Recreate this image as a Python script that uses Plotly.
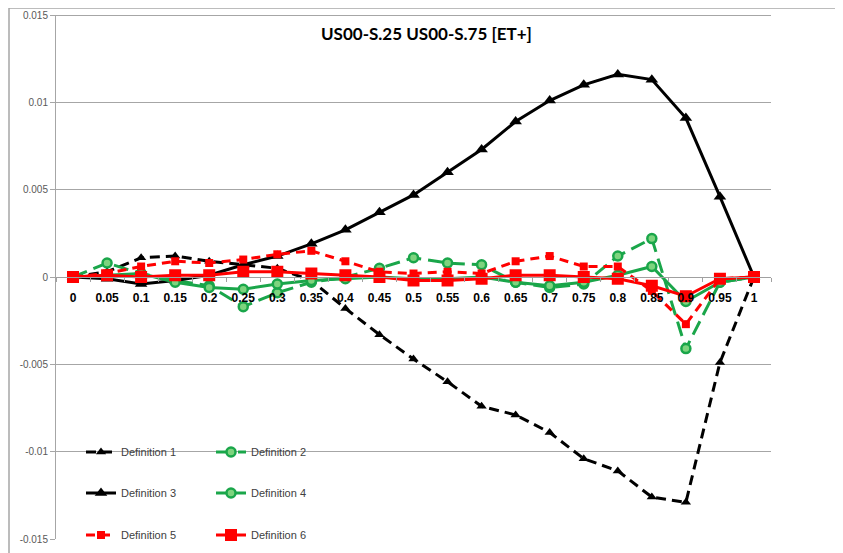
import plotly.graph_objects as go

categories = [0, 0.05, 0.1, 0.15, 0.2, 0.25, 0.3, 0.35, 0.4, 0.45, 0.5,
              0.55, 0.6, 0.65, 0.7, 0.75, 0.8, 0.85, 0.9, 0.95, 1]
tick_labels = ["0", "0.05", "0.1", "0.15", "0.2", "0.25", "0.3", "0.35", "0.4", "0.45", "0.5",
               "0.55", "0.6", "0.65", "0.7", "0.75", "0.8", "0.85", "0.9", "0.95", "1"]

def1 = [0, 0.0003, 0.0011, 0.0012, 0.0009, 0.0007, 0.0005, -0.0002, -0.0018, -0.0033, -0.0047,
        -0.0060, -0.0074, -0.0079, -0.0089, -0.0104, -0.0111, -0.0126, -0.0129, -0.0049, 0]
def2 = [0, 0.0008, 0.0002, -0.0002, -0.0005, -0.0017, -0.0009, -0.0003, 0.0000, 0.0005, 0.0011,
        0.0008, 0.0007, -0.0003, -0.0006, -0.0004, 0.0012, 0.0022, -0.0041, -0.0003, 0]
def3 = [0, -0.0001, -0.0004, -0.0002, 0.0001, 0.0007, 0.0012, 0.0019, 0.0027, 0.0037, 0.0047,
        0.0060, 0.0073, 0.0089, 0.0101, 0.0110, 0.0116, 0.0113, 0.0091, 0.0046, 0]
def4 = [0, 0.0001, 0.0002, -0.0003, -0.0006, -0.0007, -0.0004, -0.0002, -0.0001, 0.0000, -0.0001,
        -0.0001, 0.0000, -0.0003, -0.0005, -0.0003, 0.0001, 0.0006, -0.0014, -0.0003, 0]
def5 = [0, 0.0002, 0.0006, 0.0009, 0.0008, 0.0010, 0.0013, 0.0015, 0.0009, 0.0003, 0.0002,
        0.0003, 0.0002, 0.0009, 0.0012, 0.0006, 0.0006, -0.0008, -0.0027, -0.0001, 0]
def6 = [0, 0.0001, 0.0000, 0.0001, 0.0001, 0.0003, 0.0003, 0.0002, 0.0001, 0.0000, -0.0002,
        -0.0002, -0.0001, 0.0001, 0.0001, 0.0000, -0.0001, -0.0005, -0.0011, -0.0001, 0]

series_names = ["Definition 1", "Definition 2", "Definition 3",
                "Definition 4", "Definition 5", "Definition 6"]

BLACK = "#000000"
GREEN = "#1aa64a"
LGREEN = "#7ed47e"
RED = "#ff0000"
GRID = "#a6a6a6"

# page body has an 8px margin; figure sized to fill the rest of the window
OFF = 8
W, H = 843 - OFF, 553 - OFF
# plot area in screen pixels: x 56..771, y 15..539
SL, SR, ST, SB = 56, 771, 15, 539
L, T = SL - OFF, ST - OFF
R, B = W - (SR - OFF), H - (SB - OFF)
PW, PH = SR - SL, SB - ST

def px_x(p):
    return (p - SL) / PW

def px_y(p):
    return (SB - p) / PH

styles = [
    dict(data=def1, line=dict(color=BLACK, width=3, dash="10px,6px"),
         marker=dict(symbol="triangle-up", size=9, color=BLACK), leg=(81, 452)),
    dict(data=def2, line=dict(color=GREEN, width=3, dash="15px,7px"),
         marker=dict(symbol="circle", size=9, color=LGREEN, line=dict(color=GREEN, width=2.5)), leg=(211, 452)),
    dict(data=def3, line=dict(color=BLACK, width=3),
         marker=dict(symbol="triangle-up", size=11, color=BLACK), leg=(81, 493)),
    dict(data=def4, line=dict(color=GREEN, width=3),
         marker=dict(symbol="circle", size=9, color=LGREEN, line=dict(color=GREEN, width=2.5)), leg=(211, 493)),
    dict(data=def5, line=dict(color=RED, width=3, dash="9px,6px"),
         marker=dict(symbol="square", size=8, color=RED), leg=(81, 535)),
    dict(data=def6, line=dict(color=RED, width=3),
         marker=dict(symbol="square", size=12, color=RED), leg=(211, 535)),
]

fig = go.Figure()
layout_legends = {}
for i, (name, st) in enumerate(zip(series_names, styles)):
    lname = "legend" if i == 0 else f"legend{i+1}"
    fig.add_trace(go.Scatter(
        x=categories, y=st["data"], name=name, mode="lines+markers",
        line=st["line"], marker=st["marker"], legend=lname))
    lx, ly = st["leg"]
    layout_legends[lname] = dict(
        x=px_x(lx), y=px_y(ly), xanchor="left", yanchor="middle",
        bgcolor="rgba(0,0,0,0)", borderwidth=0,
        font=dict(family="Liberation Sans", size=11, color="#404040"),
        itemwidth=30)

fig.update_layout(
    width=W, height=H,
    margin=dict(l=L, r=R, t=T, b=B, autoexpand=False),
    paper_bgcolor="white", plot_bgcolor="white",
    showlegend=True,
    **layout_legends,
    xaxis=dict(
        range=[-0.025, 1.025], tickmode="array", tickvals=categories, ticktext=tick_labels,
        anchor="free", position=0.5, showgrid=False, zeroline=False,
        showline=True, linecolor="#a0a0a0", linewidth=1,
        ticks="", ticklabelstandoff=10,
        minor=dict(tick0=-0.025, dtick=0.05, ticks="outside", ticklen=4, tickcolor="#a0a0a0", showgrid=False),
        tickfont=dict(family="Liberation Sans", size=12, color="#000000", weight="bold"),
    ),
    yaxis=dict(
        range=[-0.015, 0.015], tickmode="array",
        tickvals=[-0.015, -0.01, -0.005, 0, 0.005, 0.01, 0.015],
        ticktext=["-0.015", "-0.01", "-0.005", "0", "0.005", "0.01", "0.015"],
        showgrid=True, gridcolor=GRID, gridwidth=1, zeroline=False,
        showline=True, linecolor=GRID, linewidth=1,
        ticks="outside", ticklen=5, tickcolor=GRID,
        tickfont=dict(family="Liberation Sans", size=10, color="#595959"),
    ),
    annotations=[dict(
        text="<b>US00-S.25 US00-S.75 [ET+]</b>", x=px_x(426), y=px_y(33),
        xref="paper", yref="paper", xanchor="center", yanchor="middle", showarrow=False,
        font=dict(family="Lato", size=17, color="#000000"))],
    shapes=[
        dict(type="rect", xref="paper", yref="paper",
             x0=px_x(9), x1=px_x(860), y0=px_y(570), y1=px_y(8),
             line=dict(color=GRID, width=1.5), fillcolor="rgba(0,0,0,0)", layer="below"),
        dict(type="line", xref="paper", yref="paper", x0=0, x1=1, y0=px_y(15.5), y1=px_y(15.5),
             line=dict(color=GRID, width=1), layer="above"),
    ],
)

fig.write_html("out.html")
